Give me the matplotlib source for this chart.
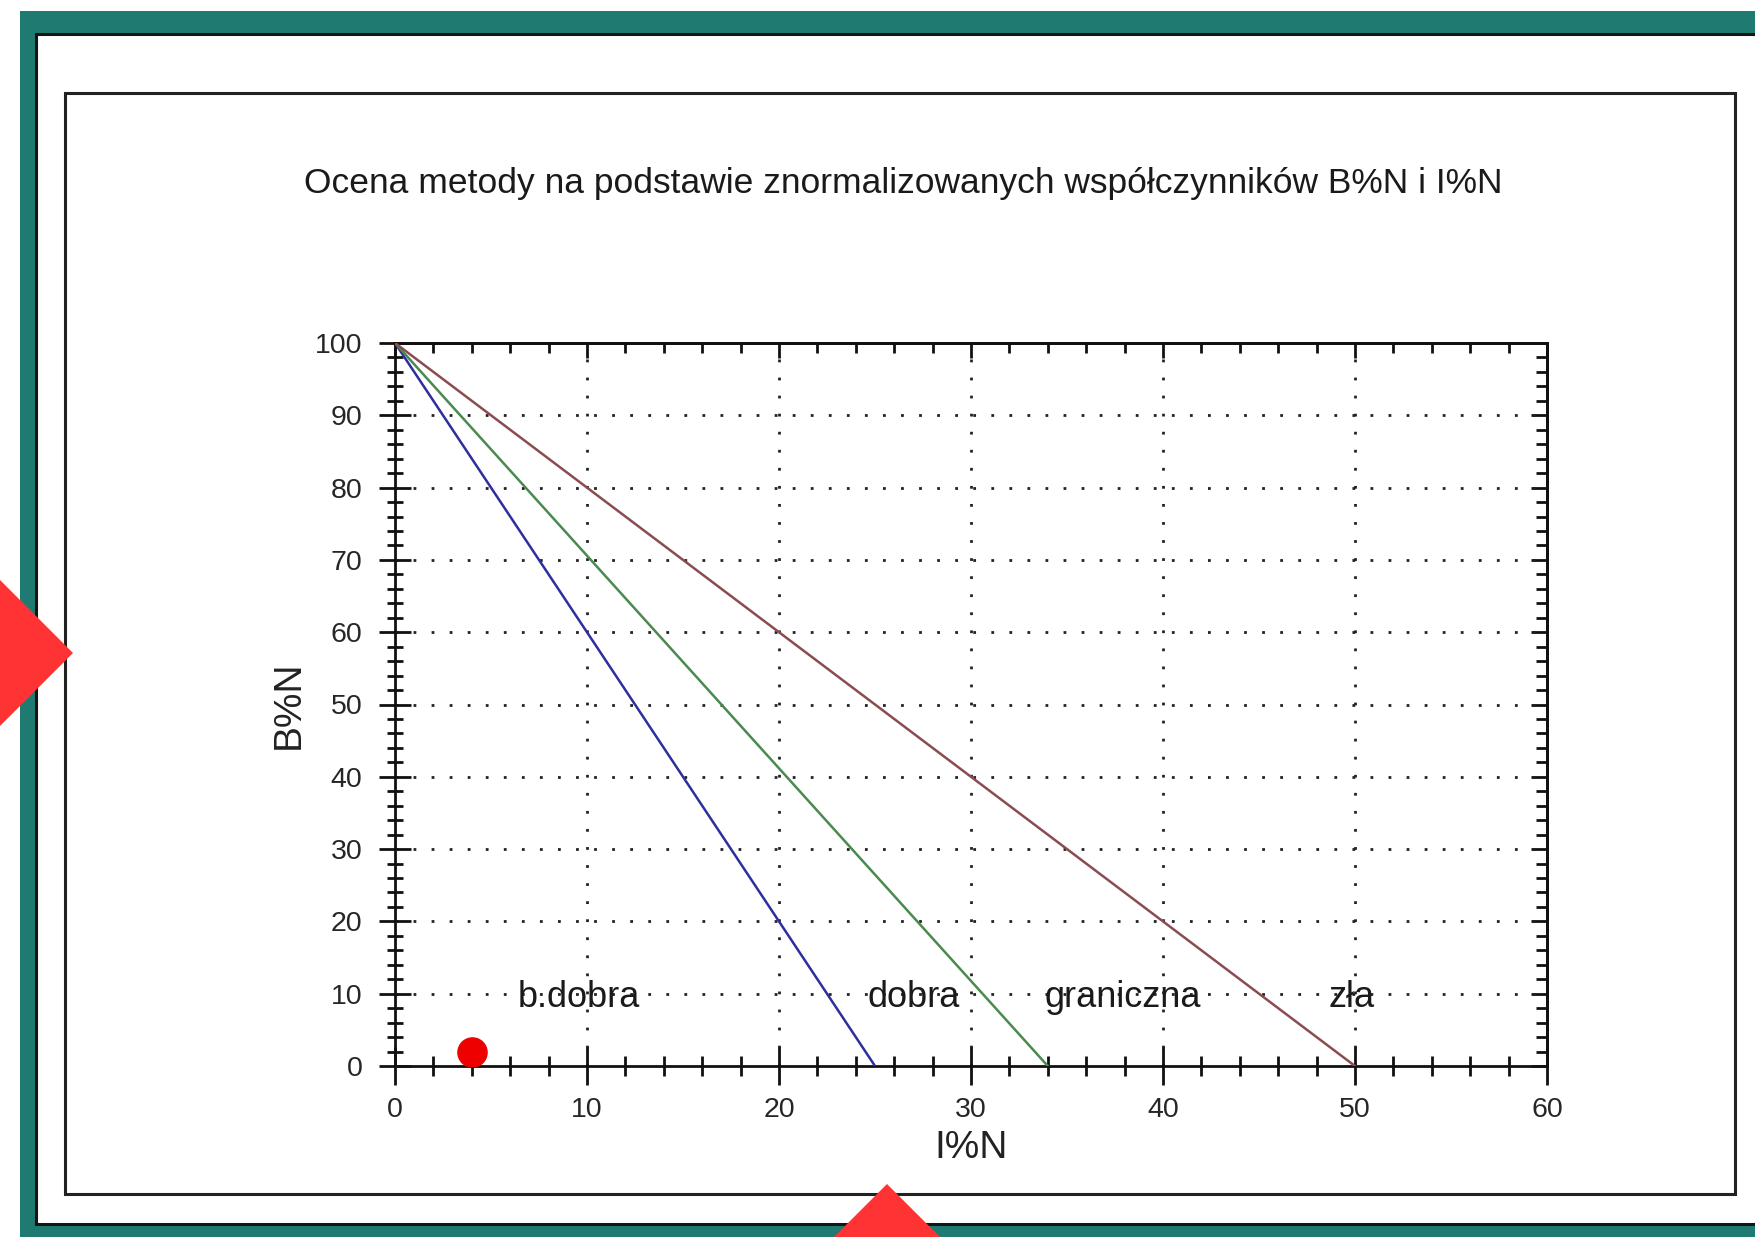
import matplotlib
matplotlib.use('Agg')
import matplotlib.pyplot as plt
from matplotlib.patches import Rectangle, Polygon
from matplotlib.ticker import MultipleLocator

plt.rcParams['font.family'] = ['Liberation Sans', 'DejaVu Sans']

# boundary lines: all start at (I%N=0, B%N=100) and end on B%N=0
line_i = [[0, 25], [0, 34], [0, 50]]
line_b = [[100, 0], [100, 0], [100, 0]]
line_colors = ['#2e2e9e', '#4a8a4e', '#8a4c50']

# assessed method
point_i = [4]
point_b = [2]

# zone names
zone_names = ['b.dobra', 'dobra', 'graniczna', 'zła']
zone_i = [9.6, 27.0, 37.9, 49.8]
zone_b = [10, 10, 10, 10]

title = 'Ocena metody na podstawie znormalizowanych współczynników B%N i I%N'

W, H = 1756, 1237
fig = plt.figure(figsize=(W / 100, H / 100), dpi=100)
fig.patch.set_facecolor('white')

# window frame (pixel coordinates)
bg = fig.add_axes([0, 0, 1, 1])
bg.set_xlim(0, W); bg.set_ylim(H, 0); bg.axis('off')
bg.set_zorder(0)
bg.add_patch(Rectangle((20, 11), W, H, fc='#1f7a72', ec='none'))
bg.add_patch(Rectangle((36, 34), W, 1224 - 34, fc='white', ec='#151515', lw=2.2))
bg.add_patch(Rectangle((65, 93), 1735 - 65, 1194 - 93, fc='white', ec='#222222', lw=2.2))

fig.text(903 / W, 1 - 183 / H, title, ha='center', va='center',
         fontsize=25.5, color='#1a1a1a')

# plot area
L, R, T, B = 395, 1547, 343, 1066
ax = fig.add_axes([L / W, 1 - B / H, (R - L) / W, (B - T) / H])
ax.set_zorder(1)
ax.set_xlim(0, 60)
ax.set_ylim(0, 100)

for xs, ys, c in zip(line_i, line_b, line_colors):
    ax.plot(xs, ys, color=c, lw=1.8, zorder=3)

ax.plot(point_i, point_b, 'o', color='#ee0000', markersize=21, zorder=4)

for name, xi, yb in zip(zone_names, zone_i, zone_b):
    ax.annotate(name, (xi, yb), xytext=(0, -3), textcoords='offset points',
                ha='center', va='center', fontsize=26, color='#1a1a1a', zorder=5)

# dotted grid at major ticks
for gx in range(10, 60, 10):
    ax.axvline(gx, color='#222222', lw=2, ls=(0, (1, 5.5)), zorder=1)
for gy in range(10, 100, 10):
    ax.axhline(gy, color='#222222', lw=2, ls=(0, (1, 5.5)), zorder=1)

for sp in ax.spines.values():
    sp.set_linewidth(2)
    sp.set_color('#111111')

ax.xaxis.set_major_locator(MultipleLocator(10))
ax.xaxis.set_minor_locator(MultipleLocator(2))
ax.yaxis.set_major_locator(MultipleLocator(10))
ax.yaxis.set_minor_locator(MultipleLocator(2))
ax.tick_params(which='both', direction='inout', top=False, right=False,
               width=2, color='#111111', labelsize=20.5, labelcolor='#262626')
ax.tick_params(axis='x', which='major', length=27, pad=9)
ax.tick_params(axis='x', which='minor', length=15)
ax.tick_params(axis='y', which='major', length=23, pad=12)
ax.tick_params(axis='y', which='minor', length=11)

top = ax.secondary_xaxis('top')
top.xaxis.set_major_locator(MultipleLocator(10))
top.xaxis.set_minor_locator(MultipleLocator(2))
top.tick_params(which='both', direction='in', labeltop=False, width=2, color='#111111')
top.tick_params(which='major', length=11)
top.tick_params(which='minor', length=7)
top.spines['top'].set_linewidth(2)

right = ax.secondary_yaxis('right')
right.yaxis.set_major_locator(MultipleLocator(10))
right.yaxis.set_minor_locator(MultipleLocator(2))
right.tick_params(which='both', direction='in', labelright=False, width=2, color='#111111')
right.tick_params(which='major', length=11.5)
right.tick_params(which='minor', length=8)
right.spines['right'].set_linewidth(2)

ax.set_xlabel('I%N', fontsize=28, color='#222222', labelpad=5)
ax.set_ylabel('B%N', fontsize=28, color='#222222', labelpad=6)

# red diamond markers overlaid on the screenshot
ov = fig.add_axes([0, 0, 1, 1])
ov.set_xlim(0, W); ov.set_ylim(H, 0); ov.axis('off')
ov.set_zorder(5)
ov.patch.set_alpha(0)
for cx, cy in [(0, 653), (887, 1257)]:
    h = 73
    ov.add_patch(Polygon([(cx - h, cy), (cx, cy - h), (cx + h, cy), (cx, cy + h)],
                         closed=True, fc='#ff3333', ec='none'))

fig.savefig('out.png', dpi=100)
